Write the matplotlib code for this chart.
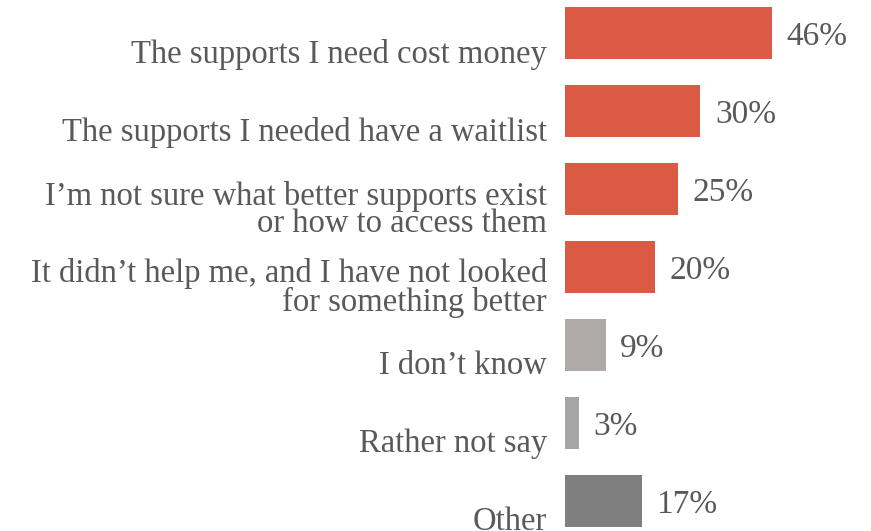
import matplotlib

matplotlib.use("Agg")
import matplotlib.pyplot as plt

# Survey responses: why people have not found better supports
categories = [
    "The supports I need cost money",
    "The supports I needed have a waitlist",
    "I\u2019m not sure what better supports exist\nor how to access them",
    "It didn\u2019t help me, and I have not looked\nfor something better",
    "I don\u2019t know",
    "Rather not say",
    "Other",
]
values = [46, 30, 25, 20, 9, 3, 17]
colors = ["#DA5A43", "#DA5A43", "#DA5A43", "#DA5A43", "#AFAAA9", "#A5A5A5", "#7F7F7F"]

TEXT = "#595959"
plt.rcParams["font.family"] = ["Liberation Serif", "DejaVu Serif"]

fig = plt.figure(figsize=(8.71, 5.31), dpi=100)
ax = fig.add_axes([565 / 871, 0.0, 1 - 565 / 871, 1.0])

ypos = list(range(len(categories)))
ax.barh(ypos, values, height=0.667, color=colors)

# value labels sit just right of each bar, digits centred on the bar
for y, v in zip(ypos, values):
    ax.text(v + 3.3, y + 0.15, f"{v}%", ha="left", va="baseline",
            fontsize=24, color=TEXT)

# category labels hang a little below their bars
for y, label in zip(ypos, categories):
    ax.text(-4.0, y + 0.27, label, ha="right", va="center", fontsize=23.5,
            color=TEXT, linespacing=0.88, clip_on=False)

ax.set_xlim(0, 68)
ax.set_ylim(6.385, -0.423)
ax.axis("off")

fig.savefig("out.png", dpi=100)
